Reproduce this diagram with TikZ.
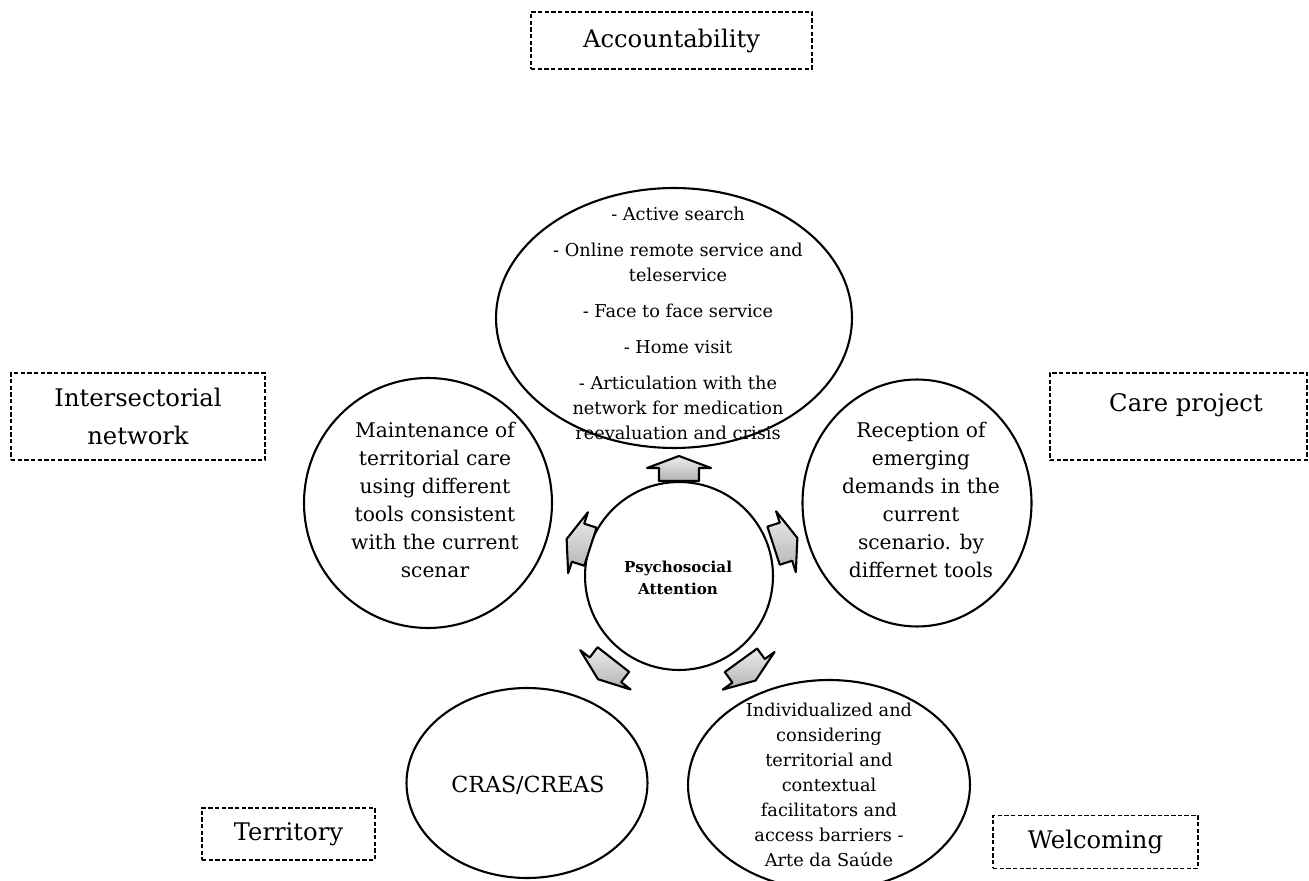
\documentclass[tikz,border=0pt]{standalone}
\usepackage{fontspec}
\setmainfont{DejaVu Serif}
\usetikzlibrary{shapes.geometric}
\newcommand\blockarr[3]{%
  \filldraw[barr, shift={(#1,#2)}, rotate=#3]
    (-12,-20) -- (1,-20) -- (1,-32) -- (13,0) -- (1,32) -- (1,20) -- (-12,20) -- cycle;}
\begin{document}
\begin{tikzpicture}[x=0.02cm,y=-0.02cm,
  bubble/.style={draw=black, line width=1.2pt, ellipse, inner sep=0pt},
  dbox/.style={draw=black, line width=0.8pt, dash pattern=on 2.5pt off 1.3pt, rectangle, inner sep=0pt, align=center, font=\fontsize{13.8}{22}\selectfont},
  ctext/.style={align=center, inner sep=0pt, font=\fontsize{11.5}{16}\selectfont},
  ttext/.style={align=center, inner sep=0pt, font=\fontsize{10.1}{14.2}\selectfont},
  ltext/.style={align=center, inner sep=0pt, font=\fontsize{10.1}{14.2}\selectfont},
  ptext/.style={align=center, inner sep=0pt, font=\bfseries\fontsize{8.6}{12.5}\selectfont},
  barr/.style={draw=black, line width=1.2pt, line join=round, top color=gray!15, bottom color=gray!60}
]
\useasboundingbox (0,0) rectangle (1309,881);

% dashed label boxes
\node[dbox, minimum width=5.62cm, minimum height=1.14cm] (acc) at (671.5,40.5) {Accountability};
\node[dbox, minimum width=5.08cm, minimum height=1.74cm] (inter) at (138,416.5) {Intersectorial\\network};
\node[dbox, minimum width=5.14cm, minimum height=1.74cm] (care) at (1178.5,416.5) {};
\node[align=center, inner sep=0pt, font=\fontsize{13.8}{22}\selectfont] (caret) at (1186,405) {Care project};
\node[dbox, minimum width=3.46cm, minimum height=1.04cm] (terr) at (288.5,834) {Territory};
\node[dbox, minimum width=4.1cm, minimum height=1.06cm] (welc) at (1095.5,842) {Welcoming};

% bubbles
\node[bubble, minimum width=7.12cm, minimum height=5.2cm] (topE) at (674,318) {};
\node[bubble, minimum width=4.96cm, minimum height=5.0cm] (leftE) at (428,503) {};
\node[bubble, minimum width=4.58cm, minimum height=4.94cm] (rightE) at (917,503) {};
\node[bubble, minimum width=3.76cm, minimum height=3.76cm] (cen) at (679,576) {};
\node[bubble, minimum width=4.82cm, minimum height=3.8cm] (cras) at (527,783) {};
\node[bubble, minimum width=5.64cm, minimum height=4.2cm] (lrE) at (829,785) {};

% texts
\node[ttext] (topT) at (678,323) {- Active search\\[6.3pt]- Online remote service and\\teleservice\\[6.3pt]- Face to face service\\[6.3pt]- Home visit\\[6.3pt]- Articulation with the\\network for medication\\reevaluation and crisis};
\node[ctext] (leftT) at (435,500) {Maintenance of\\territorial care\\using different\\tools consistent\\with the current\\scenar};
\node[ctext] (rightT) at (921,500) {Reception of\\emerging\\demands in the\\current\\scenario. by\\differnet tools};
\node[ptext] (cenT) at (678,578) {Psychosocial\\Attention};
\node[inner sep=0pt, font=\fontsize{12.6}{16}\selectfont] (crasT) at (528,785) {CRAS/CREAS};
\node[ltext] (lrT) at (829,785) {Individualized and\\considering\\territorial and\\contextual\\facilitators and\\access barriers -\\Arte da Saúde};

% block arrows from the centre outward
\blockarr{679}{469}{90}
\blockarr{579}{543}{162}
\blockarr{785}{542}{18}
\blockarr{606}{669}{232}
\blockarr{748}{670}{-54}
\end{tikzpicture}
\end{document}
